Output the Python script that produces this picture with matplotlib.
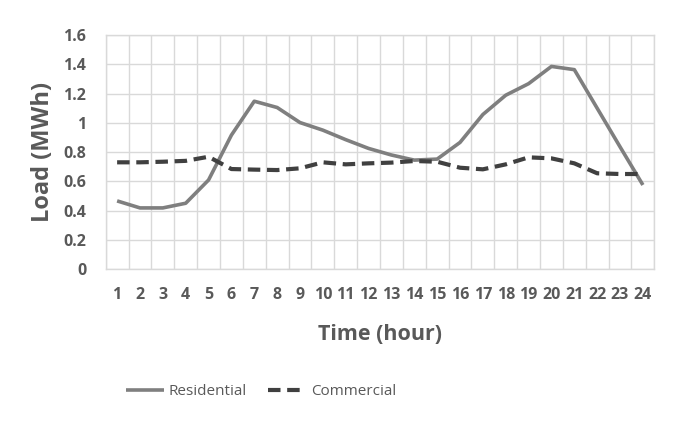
import numpy as np
import matplotlib
matplotlib.use("Agg")
from matplotlib import pyplot as plt

hours = list(range(1, 25))
residential = [0.466, 0.418, 0.418, 0.45, 0.609, 0.916, 1.148, 1.105, 1.002, 0.95,
               0.885, 0.825, 0.78, 0.745, 0.752, 0.866, 1.057, 1.189, 1.268, 1.386,
               1.364, 1.10, 0.836, 0.575]
commercial = [0.73, 0.73, 0.734, 0.74, 0.768, 0.684, 0.68, 0.677, 0.689, 0.73,
              0.716, 0.723, 0.728, 0.739, 0.734, 0.693, 0.682, 0.716, 0.764, 0.757,
              0.723, 0.655, 0.65, 0.65]
yticks = [0, 0.2, 0.4, 0.6, 0.8, 1, 1.2, 1.4, 1.6]

plt.rcParams['font.family'] = ['Open Sans', 'DejaVu Sans']
txt = '#595959'
grid = '#d9d9d9'

fig = plt.figure(figsize=(6.74, 4.26), dpi=100)
ax = fig.add_axes([0.1568, 0.3685, 0.814, 0.549])

ax.plot(hours, residential, color='#7f7f7f', lw=2.6, label='Residential',
        solid_capstyle='butt')
ax.plot(hours, commercial, color='#404040', lw=3.0, ls=(0, (3, 1.6)),
        label='Commercial', dash_capstyle='butt')

ax.set_xlim(0.5, 24.5)
ax.set_ylim(0, 1.6)
ax.set_xticks(hours)
ax.set_xticklabels([str(h) for h in hours])
ax.set_xticks(np.arange(0.5, 25, 1), minor=True)
ax.set_yticks(yticks)
ax.set_yticklabels(['0', '0.2', '0.4', '0.6', '0.8', '1', '1.2', '1.4', '1.6'])

ax.grid(True, which='minor', axis='x', color=grid, lw=1)
ax.grid(True, which='major', axis='y', color=grid, lw=1)
ax.set_axisbelow(True)
for s in ax.spines.values():
    s.set_color(grid)
    s.set_linewidth(1)

ax.tick_params(axis='both', which='both', length=0, colors=txt, labelsize=11.5)
ax.tick_params(axis='x', pad=13)
ax.tick_params(axis='y', pad=14)
for lab in ax.get_xticklabels() + ax.get_yticklabels():
    lab.set_fontweight('bold')
    lab.set_color(txt)

ax.set_xlabel('Time (hour)', fontsize=15.5, fontweight='bold', color=txt, labelpad=15)
ax.set_ylabel('Load (MWh)', fontsize=17, fontweight='bold', color=txt, labelpad=6)

fig.legend(loc='center', bbox_to_anchor=(0.387, 0.08), ncol=2, frameon=False,
           fontsize=11, labelcolor=txt, handlelength=2.5, handletextpad=0.3,
           columnspacing=1.4)

fig.savefig('out.png', dpi=100)
